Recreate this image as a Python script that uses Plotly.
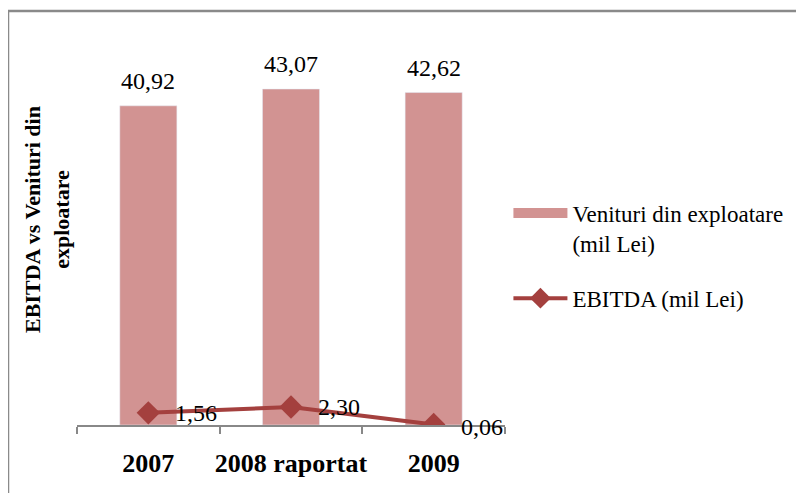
import plotly.graph_objects as go

categories = ["2007", "2008 raportat", "2009"]
venituri = [40.92, 43.07, 42.62]
ebitda = [1.56, 2.30, 0.06]
venituri_labels = ["40,92", "43,07", "42,62"]
ebitda_labels = ["1,56", "2,30", "0,06"]

BAR_COLOR = "#D29392"
LINE_COLOR = "#A4403E"
FONT = "Liberation Serif"

pos = list(range(len(categories)))

fig = go.Figure()
fig.add_trace(go.Bar(x=pos, y=venituri, marker_color=BAR_COLOR, showlegend=False,
                     hoverinfo="skip"))
fig.add_trace(go.Scatter(x=pos, y=ebitda, mode="lines+markers",
                         line=dict(color=LINE_COLOR, width=4),
                         marker=dict(symbol="diamond", size=18, color=LINE_COLOR),
                         name="EBITDA (mil Lei)", legend="legend2"))
# legend entry for bars (wide swatch)
fig.add_trace(go.Scatter(x=[None], y=[None], mode="lines",
                         line=dict(color=BAR_COLOR, width=13),
                         name="Venituri din exploatare<br>(mil Lei)", legend="legend"))

for p, v, t in zip(pos, venituri, venituri_labels):
    fig.add_annotation(x=p, y=v, text=t, showarrow=False, yanchor="bottom", yshift=10,
                       font=dict(family=FONT, size=24, color="black"))
for p, v, t, ys in zip(pos, ebitda, ebitda_labels, [0, 0, -2]):
    fig.add_annotation(x=p, y=v, text=t, showarrow=False, xanchor="left", xshift=25,
                       yshift=ys, font=dict(family=FONT, size=24, color="black"))

fig.add_annotation(xref="paper", yref="paper", x=-0.070, y=0.526, textangle=-90,
                   xanchor="center", yanchor="middle",
                   text="<b>EBITDA vs Venituri din<br>exploatare</b>", showarrow=False,
                   font=dict(family=FONT, size=22, color="black"))

fig.add_shape(type="rect", xref="paper", yref="paper", x0=-0.1612, x1=1.9, y0=-0.5, y1=1.0615,
              line=dict(color="#8a8a8a", width=2.5), layer="below")

fig.update_layout(
    width=804, height=493,
    margin=dict(l=69, r=307, t=27, b=76),
    paper_bgcolor="white", plot_bgcolor="white",
    bargap=0.6,
    font=dict(family=FONT, color="black"),
    legend=dict(x=1.008, y=0.505, xanchor="left", yanchor="middle", valign="top",
                itemwidth=54, font=dict(family=FONT, size=23), bgcolor="rgba(0,0,0,0)"),
    legend2=dict(x=1.008, y=0.325, xanchor="left", yanchor="middle",
                 itemwidth=54, font=dict(family=FONT, size=23), bgcolor="rgba(0,0,0,0)"),
    xaxis=dict(range=[-0.5, len(categories) - 0.5], tickmode="array", tickvals=pos,
               ticktext=categories, ticks="", showline=True, linecolor="#888888",
               linewidth=1.5, tickangle=0, zeroline=False, ticklabelstandoff=14,
               minor=dict(ticks="outside", tick0=-0.5, dtick=1, ticklen=7,
                          tickcolor="#888888", tickwidth=1.5, showgrid=False),
               tickfont=dict(family=FONT, size=26, color="black", weight="bold"),
               showgrid=False),
    yaxis=dict(range=[0, 50], visible=False, showgrid=False),
)

fig.write_html("out.html")
